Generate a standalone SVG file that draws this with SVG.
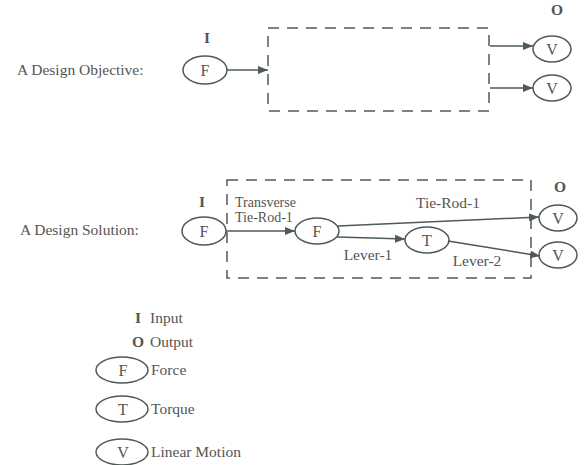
<svg xmlns="http://www.w3.org/2000/svg" width="586" height="465" viewBox="0 0 586 465">
<style>
text{fill:#555;font-size:15.5px}
.n{text-anchor:middle;font-size:16px}
.b{font-weight:bold;text-anchor:middle}
.s{font-size:14px}
ellipse{fill:none;stroke:#4d5a57;stroke-width:1.5}
.e{stroke:#4d5a57;stroke-width:1.5;fill:none}
.box{stroke:#555;stroke-width:1.5;fill:none;stroke-dasharray:11,8}
</style>
<defs>
<marker id="ah" viewBox="0 0 10 8" refX="10" refY="4" markerWidth="10" markerHeight="8" markerUnits="userSpaceOnUse" orient="auto">
<path d="M0,0 L10,4 L0,8 z" fill="#4d5a57"/>
</marker>
</defs>
<rect width="586" height="465" fill="#fff"/>
<g font-family="'Liberation Serif', 'Times New Roman', 'DejaVu Serif', serif">
<text x="17" y="75">A Design Objective:</text>
<text x="20" y="235">A Design Solution:</text>
<rect class="box" x="268" y="28" width="221" height="83"/>
<rect class="box" x="227" y="180" width="304" height="98"/>
<g id="connectors">
<line class="e" x1="227" y1="70" x2="268" y2="70" marker-end="url(#ah)"/>
<line class="e" x1="490" y1="46" x2="533" y2="46" marker-end="url(#ah)"/>
<line class="e" x1="490" y1="88" x2="533" y2="88" marker-end="url(#ah)"/>
<line class="e" x1="226" y1="231" x2="295" y2="231" marker-end="url(#ah)"/>
<line class="e" x1="338" y1="226" x2="539" y2="217" marker-end="url(#ah)"/>
<line class="e" x1="337" y1="237" x2="405" y2="239" marker-end="url(#ah)"/>
<line class="e" x1="448" y1="241" x2="540" y2="256" marker-end="url(#ah)"/>
<text class="s" x="235" y="207">Transverse</text>
<text class="s" x="235" y="222">Tie-Rod-1</text>
<text x="448" y="208" text-anchor="middle">Tie-Rod-1</text>
<text x="368" y="260" text-anchor="middle">Lever-1</text>
<text x="477" y="266" text-anchor="middle">Lever-2</text>
</g>
<g id="obj-in"><text class="b" x="207" y="43">I</text><ellipse cx="205" cy="70" rx="22" ry="14"/><text class="n" x="205" y="76">F</text></g>
<g id="obj-out1"><text class="b" x="557" y="15">O</text><ellipse cx="552" cy="49" rx="19" ry="13"/><text class="n" x="552" y="55">V</text></g>
<g id="obj-out2"><ellipse cx="552" cy="88" rx="19" ry="13"/><text class="n" x="552" y="94">V</text></g>
<g id="sol-in"><text class="b" x="202" y="207">I</text><ellipse cx="204" cy="231" rx="22" ry="14"/><text class="n" x="204" y="237">F</text></g>
<g id="sol-f"><ellipse cx="317" cy="231" rx="22" ry="13"/><text class="n" x="317" y="237">F</text></g>
<g id="sol-t"><ellipse cx="427" cy="240" rx="22" ry="13"/><text class="n" x="427" y="246">T</text></g>
<g id="sol-out1"><text class="b" x="560" y="192">O</text><ellipse cx="558" cy="218" rx="19" ry="13"/><text class="n" x="558" y="224">V</text></g>
<g id="sol-out2"><ellipse cx="558" cy="255" rx="19" ry="13"/><text class="n" x="558" y="261">V</text></g>
<g id="legend">
<text class="b" x="138" y="323">I</text><text x="150" y="323">Input</text>
<text class="b" x="138" y="347">O</text><text x="150" y="347">Output</text>
<ellipse cx="122" cy="370" rx="26" ry="13"/><text class="n" x="123" y="376">F</text><text x="151" y="375">Force</text>
<ellipse cx="122" cy="409" rx="26" ry="13"/><text class="n" x="123" y="415">T</text><text x="151" y="414">Torque</text>
<ellipse cx="122" cy="452" rx="26" ry="13"/><text class="n" x="123" y="458">V</text><text x="151" y="457">Linear Motion</text>
</g>
</g>
</svg>
